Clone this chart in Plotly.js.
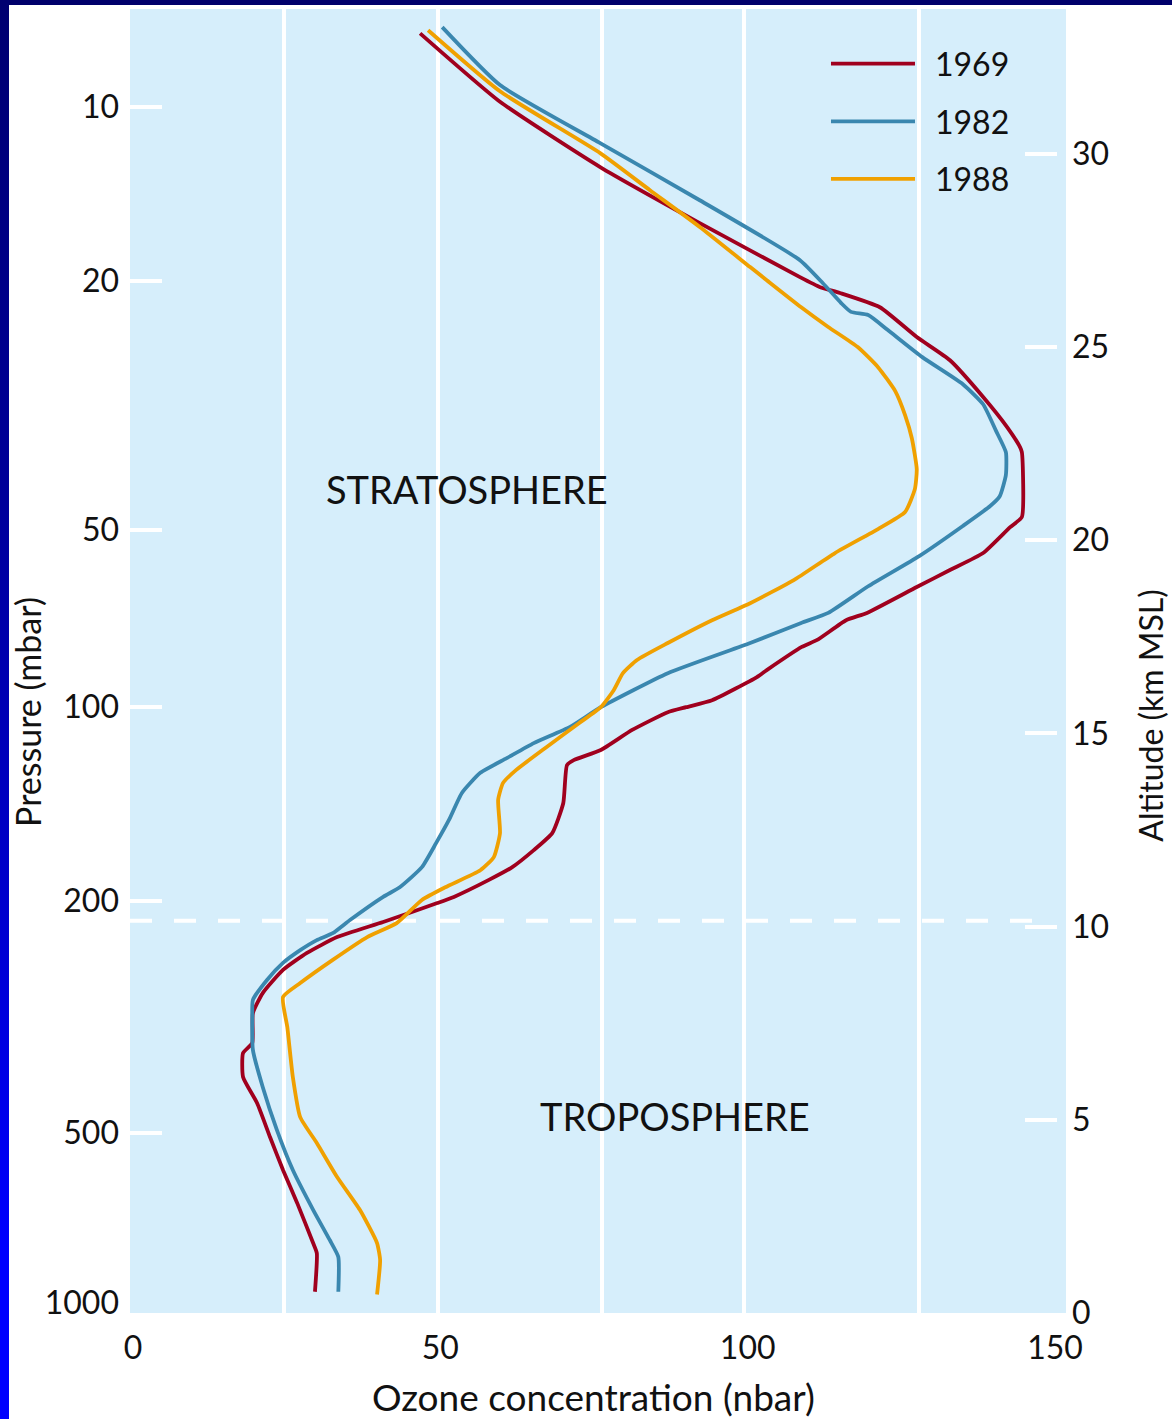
<!DOCTYPE html>
<html>
<head>
<meta charset="utf-8">
<script src="https://cdn.plot.ly/plotly-3.0.1.min.js"></script>
<style>
  html, body { margin:0; padding:0; background:#ffffff; }
  #wrap { position:relative; width:1172px; height:1419px; overflow:hidden; }
  #chart { position:absolute; left:0; top:0; width:1172px; height:1419px; }
  #topbar { position:absolute; left:0; top:0; width:1172px; height:5px; background:#00006b; z-index:5; }
  #leftbar { position:absolute; left:0; top:0; width:9px; height:1419px; z-index:5;
             background:linear-gradient(to bottom, #000070 0%, #00009a 35%, #0000d0 65%, #0000ff 88%, #0000ff 100%); }
</style>
</head>
<body>
<div id="wrap">
  <div id="chart"></div>
  <div id="topbar"></div>
  <div id="leftbar"></div>
</div>
<script>
// ---- data (ozone concentration in nbar vs altitude in km) ----
const SERIES_NAMES = ['1969', '1982', '1988'];

const OZONE_1969 = [46.7, 59.7, 76.0, 92.2, 108.5, 111.8, 115.0, 121.5, 127.5, 132.9, 138.3, 142.2, 144.3, 144.6, 144.6, 142.7, 138.3, 132.9, 127.5, 119.4, 116.0, 111.3, 108.8, 103.1, 101.5, 94.2, 90.0, 87.0, 81.2, 76.1, 71.7, 70.6, 70.0, 68.2, 65.2, 61.7, 57.9, 52.2, 49.5, 40.7, 33.2, 28.3, 24.4, 21.1, 19.5, 19.4, 17.9, 17.9, 20.2, 22.3, 24.4, 26.7, 29.3, 29.9, 29.6];
const ALT_1969   = [33.12, 31.35, 29.66, 28.21, 26.81, 26.55, 26.40, 26.03, 25.26, 24.66, 23.71, 22.93, 22.41, 22.28, 20.60, 20.34, 19.67, 19.23, 18.79, 18.12, 17.93, 17.42, 17.24, 16.64, 16.46, 15.86, 15.68, 15.55, 15.09, 14.57, 14.31, 14.18, 13.20, 12.42, 11.98, 11.54, 11.21, 10.77, 10.61, 10.12, 9.73, 9.32, 8.88, 8.28, 7.76, 6.99, 6.73, 6.11, 5.43, 4.55, 3.70, 2.85, 1.81, 1.55, 0.55];

const OZONE_1982 = [50.3, 59.7, 76.0, 92.2, 108.5, 112.2, 115.2, 116.8, 119.6, 122.8, 128.4, 135.0, 138.3, 140.4, 142.0, 142.0, 141.0, 139.4, 135.0, 127.9, 119.6, 113.1, 108.7, 100.4, 87.0, 76.1, 71.1, 65.2, 60.8, 56.5, 53.5, 51.4, 49.3, 47.0, 43.4, 40.7, 35.3, 32.5, 29.9, 27.2, 24.4, 21.8, 19.5, 19.4, 19.5, 21.1, 23.4, 26.0, 29.3, 32.0, 33.4, 33.4];
const ALT_1982   = [33.28, 31.78, 30.28, 28.80, 27.25, 26.66, 26.14, 25.91, 25.83, 25.44, 24.74, 24.04, 23.52, 22.83, 22.28, 21.69, 21.14, 20.88, 20.37, 19.59, 18.81, 18.12, 17.86, 17.34, 16.56, 15.68, 15.17, 14.75, 14.36, 13.98, 13.46, 12.76, 12.16, 11.54, 11.02, 10.77, 10.17, 9.83, 9.65, 9.39, 9.06, 8.62, 8.10, 7.66, 6.81, 5.85, 4.74, 3.70, 2.67, 1.89, 1.45, 0.55];

const OZONE_1988 = [48.0, 59.7, 76.0, 84.1, 92.2, 100.4, 103.1, 108.7, 113.1, 117.9, 121.2, 124.0, 125.6, 126.7, 127.5, 127.2, 125.6, 121.2, 114.2, 107.5, 100.4, 94.2, 87.0, 82.0, 79.7, 78.2, 76.1, 72.6, 67.3, 62.3, 60.2, 59.4, 59.7, 58.7, 56.5, 50.8, 47.0, 42.9, 38.1, 32.5, 27.2, 24.4, 25.1, 26.0, 27.2, 29.9, 33.2, 36.9, 39.7, 40.2, 39.7];
const ALT_1988   = [33.20, 31.62, 30.02, 29.06, 28.11, 27.07, 26.73, 26.03, 25.52, 25.00, 24.48, 23.86, 23.24, 22.64, 21.84, 21.33, 20.73, 20.29, 19.67, 18.97, 18.37, 17.93, 17.34, 16.90, 16.56, 16.12, 15.68, 15.27, 14.65, 14.05, 13.72, 13.28, 12.42, 11.80, 11.46, 11.02, 10.69, 10.09, 9.73, 9.14, 8.54, 8.18, 7.40, 6.11, 5.07, 4.40, 3.52, 2.67, 1.81, 1.37, 0.48];

// ---- axes ----
const X_TICKS = [0, 50, 100, 150];
const GRID_X = [24.6, 49.6, 76.3, 99.4, 127.8];
const ALT_TICKS = [0, 5, 10, 15, 20, 25, 30];
const PRESSURE_LABELS = ['10', '20', '50', '100', '200', '500', '1000'];
const PRESSURE_ALT = [31.21, 26.71, 20.26, 15.68, 10.66, 4.66, 0.26];
const PRESSURE_TICK_ALT = PRESSURE_ALT.slice(0, 6);
const TROPOPAUSE_ALT = 10.15;
const REGION_LABELS = [
  {text: 'STRATOSPHERE', x: 54.3, y: 21.33},
  {text: 'TROPOSPHERE', x: 88.2, y: 5.10}
];
const X_TITLE = 'Ozone concentration (nbar)';
const Y_TITLE_LEFT = 'Pressure (mbar)';
const Y_TITLE_RIGHT = 'Altitude (km MSL)';

const COLORS = ['#a0001e', '#3a87af', '#f0a000'];
const X_RANGE = [-0.49, 151.78];
const Y_RANGE = [0, 33.75];
const FONT = 'Lato, "Open Sans", "DejaVu Sans", sans-serif';
const INK = '#111111';

const xs = [OZONE_1969, OZONE_1982, OZONE_1988];
const ys = [ALT_1969, ALT_1982, ALT_1988];

const traces = SERIES_NAMES.map(function(name, i){
  return {
    type: 'scatter', mode: 'lines', name: name,
    x: xs[i], y: ys[i], xaxis: 'x', yaxis: 'y',
    legendgroup: 'g' + i,
    line: {color: COLORS[i], width: 3.8, shape: 'spline', smoothing: 0.5},
    hoverinfo: 'skip'
  };
});
// empty helper traces so that the overlay axes (labels / ticks) get drawn
[['x2', 'y'], ['x', 'y2'], ['x', 'y3']].forEach(function(ax){
  traces.push({type: 'scatter', mode: 'lines', x: [null], y: [null],
               xaxis: ax[0], yaxis: ax[1], showlegend: false, hoverinfo: 'skip'});
});

const layout = {
  width: 1172, height: 1419,
  margin: {l: 130, r: 106, t: 9, b: 106, pad: 0},
  paper_bgcolor: '#ffffff',
  plot_bgcolor: '#d6eefb',
  font: {family: FONT, color: INK, size: 32},
  showlegend: true,
  legend: {
    x: 0.8173, y: 0.979, xanchor: 'left', yanchor: 'top',
    bgcolor: 'rgba(0,0,0,0)', borderwidth: 0,
    font: {family: FONT, size: 32, color: INK},
    traceorder: 'grouped', tracegroupgap: 13
  },
  xaxis: {
    range: X_RANGE, tickmode: 'array', tickvals: GRID_X,
    showticklabels: false, ticks: '', showgrid: true,
    gridcolor: '#ffffff', gridwidth: 4, zeroline: false, showline: false
  },
  xaxis2: {
    overlaying: 'x', anchor: 'y', side: 'bottom', range: X_RANGE,
    tickmode: 'array', tickvals: X_TICKS, ticks: '', showgrid: false,
    zeroline: false, showline: false,
    tickfont: {family: FONT, size: 32, color: INK},
    ticklabelstandoff: 13
  },
  yaxis: {
    range: Y_RANGE, tickmode: 'array', tickvals: PRESSURE_ALT, ticktext: PRESSURE_LABELS,
    ticks: '', showgrid: false, zeroline: false, showline: false,
    tickfont: {family: FONT, size: 32, color: INK},
    ticklabelstandoff: 10
  },
  yaxis3: {
    overlaying: 'y', side: 'left', range: Y_RANGE, tickmode: 'array',
    tickvals: PRESSURE_TICK_ALT, ticks: 'inside', ticklen: 32, tickwidth: 4,
    tickcolor: '#ffffff', showticklabels: false, showgrid: false,
    zeroline: false, showline: false
  },
  yaxis2: {
    overlaying: 'y', side: 'right', anchor: 'free', position: 0.9904,
    range: Y_RANGE, tickmode: 'array', tickvals: ALT_TICKS,
    ticks: 'inside', ticklen: 32, tickwidth: 4, tickcolor: '#ffffff',
    showgrid: false, zeroline: false, showline: false,
    tickfont: {family: FONT, size: 32, color: INK},
    ticklabelstandoff: 14
  },
  shapes: [{
    type: 'line', xref: 'paper', yref: 'y', x0: 0, x1: 0.972,
    y0: TROPOPAUSE_ALT, y1: TROPOPAUSE_ALT, layer: 'between',
    line: {color: '#ffffff', width: 4, dash: '22px,22px'}
  }],
  annotations: REGION_LABELS.map(function(r){
    return {text: r.text, x: r.x, y: r.y, xref: 'x', yref: 'y', showarrow: false,
            xanchor: 'center', yanchor: 'middle',
            font: {family: FONT, size: 38, color: INK}};
  }).concat([
    {text: X_TITLE, xref: 'paper', yref: 'paper', x: 0.4957, y: -0.0637,
     xanchor: 'center', yanchor: 'middle', showarrow: false,
     font: {family: FONT, size: 37, color: INK}},
    {text: Y_TITLE_LEFT, xref: 'paper', yref: 'paper', x: -0.109, y: 0.4609,
     xanchor: 'center', yanchor: 'middle', textangle: -90, showarrow: false,
     font: {family: FONT, size: 34, color: INK}},
    {text: Y_TITLE_RIGHT, xref: 'paper', yref: 'paper', x: 1.0905, y: 0.4586,
     xanchor: 'center', yanchor: 'middle', textangle: -90, showarrow: false,
     font: {family: FONT, size: 32, color: INK}}
  ])
};

const gd = document.getElementById('chart');
Plotly.newPlot(gd, traces, layout, {displayModeBar: false, staticPlot: true}).then(function(){
  const sb = gd.querySelector('.legend .scrollbox');
  if (sb) sb.removeAttribute('clip-path');
  gd.querySelectorAll('.legend .traces').forEach(function(g){
    const p = g.querySelector('.legendlines path');
    if (p) p.setAttribute('d', 'M-64,0h84');
  });
});
</script>
</body>
</html>
